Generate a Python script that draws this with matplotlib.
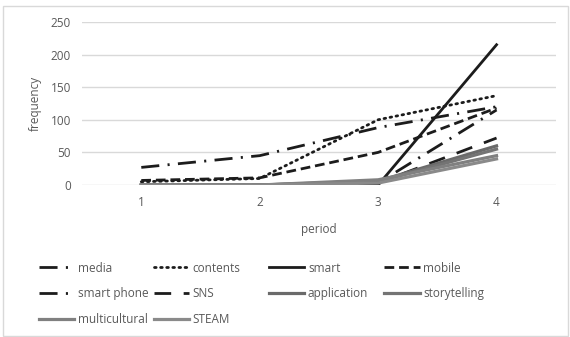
import matplotlib
matplotlib.use("Agg")
import matplotlib.pyplot as plt
from matplotlib.patches import Rectangle

plt.rcParams["font.family"] = ["Open Sans", "DejaVu Sans"]
plt.rcParams["lines.scale_dashes"] = False

periods = [1, 2, 3, 4]
media = [27, 45, 88, 120]
contents = [5, 10, 100, 137]
smart = [0, 0, 0, 215]
mobile = [7, 11, 50, 118]
smart_phone = [0, 0, 3, 115]
sns = [0, 0, 3, 72]
application = [0, 0, 6, 60]
storytelling = [0, 0, 5, 55]
multicultural = [0, 0, 8, 45]
steam = [0, 0, 3, 40]

# name, values, colour, width, dash pattern (points)
series = [
    ("media", media, "#1c1c1c", 2.0, (0, (13, 6, 1.5, 6))),
    ("contents", contents, "#1c1c1c", 2.0, (0, (1.2, 3.2))),
    ("smart", smart, "#1c1c1c", 2.0, "-"),
    ("mobile", mobile, "#1c1c1c", 2.0, (0, (7, 3.5))),
    ("smart phone", smart_phone, "#1c1c1c", 2.0, (0, (13, 6, 1.5, 6))),
    ("SNS", sns, "#1c1c1c", 2.0, (0, (12, 9))),
    ("application", application, "#6a6a6a", 2.3, "-"),
    ("storytelling", storytelling, "#747474", 2.3, "-"),
    ("multicultural", multicultural, "#808080", 2.3, "-"),
    ("STEAM", steam, "#8a8a8a", 2.3, "-"),
]

fig = plt.figure(figsize=(5.7, 3.37), dpi=100)
ax = fig.add_axes([0.144, 0.451, 0.831, 0.484])

lines = {}
for name, vals, col, lw, ls in series:
    (ln,) = ax.plot(periods, vals, color=col, lw=lw, linestyle=ls,
                    dash_capstyle="butt", label=name)
    lines[name] = ln
lines["contents"].set_dash_capstyle("round")

ax.set_xlim(0.5, 4.5)
ax.set_ylim(0, 250)
ax.set_xticks(periods)
ax.set_yticks(range(0, 251, 50))
ax.grid(axis="y", color="#d9d9d9", lw=1)
ax.set_axisbelow(True)
for s in ax.spines.values():
    s.set_visible(False)
ax.tick_params(length=0, labelsize=8.5, labelcolor="#595959", pad=8)
ax.set_xlabel("period", fontsize=8.5, color="#595959", labelpad=10)
ax.set_ylabel("frequency", fontsize=8.5, color="#595959", labelpad=6)

# legend in four fixed-width columns, filled row by row like the original
columns = [["media", "smart phone", "multicultural"],
           ["contents", "SNS", "STEAM"],
           ["smart", "application"],
           ["mobile", "storytelling"]]
col_x = [0.068, 0.270, 0.472, 0.674]
for names, x in zip(columns, col_x):
    leg = fig.legend([lines[n] for n in names], names, loc="upper left",
                     bbox_to_anchor=(x, 0.224), frameon=False, fontsize=8.5,
                     labelcolor="#595959", handlelength=3.0, handletextpad=0.3,
                     labelspacing=1.1, borderpad=0, borderaxespad=0)

fig.patches.append(Rectangle((0.006, 0.003), 0.99, 0.978, transform=fig.transFigure,
                             fill=False, edgecolor="#d9d9d9", lw=1))

fig.savefig("out.png", dpi=100)
